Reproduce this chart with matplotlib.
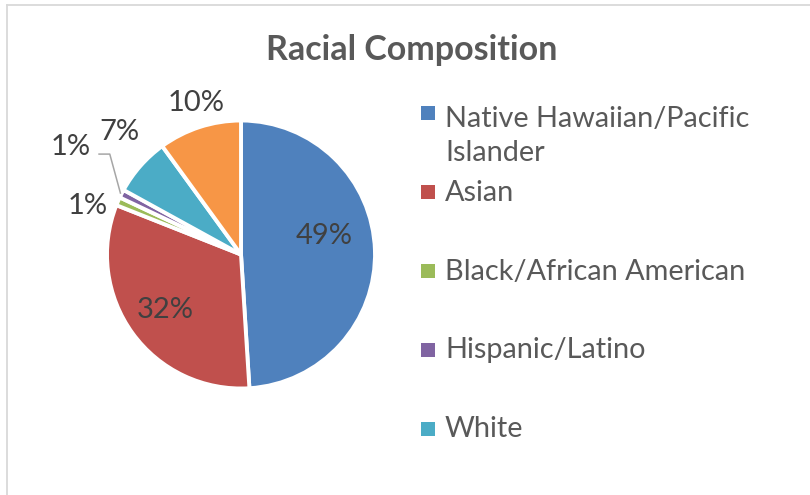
import numpy as np
import matplotlib
matplotlib.use("Agg")
from matplotlib import pyplot as plt
from matplotlib.lines import Line2D
from matplotlib.patches import Rectangle

plt.rcParams["font.family"] = ["Lato", "DejaVu Sans"]

groups = ["Native Hawaiian/Pacific Islander", "Asian", "Black/African American",
          "Hispanic/Latino", "White", "Other"]
shares = [49, 32, 1, 1, 7, 10]
legend_names = ["Native Hawaiian/Pacific\nIslander", "Asian", "Black/African American",
                "Hispanic/Latino", "White"]
colors = ["#4F81BD", "#C0504D", "#9BBB59", "#8064A2", "#4BACC6", "#F79646"]

# label placement: distance from centre (radius units) and turn off the wedge middle (deg)
label_dist = [0.635, 0.70, 1.20, 1.50, 1.285, 1.18]
label_turn = [10.9, 0.0, 5.8, -5.2, -3.8, -1.5]

W, H = 810, 495
fig = plt.figure(figsize=(W / 100, H / 100), dpi=100)

# pie centre (241, 254) px, radius 134 px
R = 134
cx, cy = 241, 254.5
span = 1.5
ax = fig.add_axes([(cx - span * R) / W, (H - cy - span * R) / H, 2 * span * R / W, 2 * span * R / H])

wedges, _ = ax.pie(shares, colors=colors, startangle=90, counterclock=False, radius=1,
                   wedgeprops=dict(edgecolor="white", linewidth=2.8))
ax.set_xlim(-span, span)
ax.set_ylim(-span, span)
ax.set_aspect("equal")
ax.axis("off")

for i, (w, v) in enumerate(zip(wedges, shares)):
    mid = np.deg2rad((w.theta1 + w.theta2) / 2 + label_turn[i])
    x, y = label_dist[i] * np.cos(mid), label_dist[i] * np.sin(mid)
    ax.text(x, y, f"{v}%", ha="center", va="center", fontsize=21, color="#404040")
    if i == 3:
        # leader line for the small Hispanic/Latino slice
        wm = np.deg2rad((w.theta1 + w.theta2) / 2)
        ex, ey = 1.01 * np.cos(wm), 1.01 * np.sin(wm)
        ax.add_line(Line2D([x + 0.21, x + 0.29, ex], [y - 0.05, y - 0.05, ey],
                           color="#A6A6A6", lw=1.1))

# title
fig.text(411.5 / W, 1 - 60 / H, "Racial Composition", ha="center", va="baseline",
         fontsize=24.5, fontweight="bold", color="#595959")

# legend, first five entries (baseline of the last text line)
baselines = [161, 201, 280, 358, 437]
markers = [113, 192, 271, 350, 429]
for name, col, yb, ym in zip(legend_names, colors, baselines, markers):
    fig.patches.append(Rectangle((421 / W, 1 - (ym + 7) / H), 14 / W, 14 / H,
                                 transform=fig.transFigure, facecolor=col, edgecolor="none"))
    fig.text(445 / W, 1 - yb / H, name, ha="left", va="baseline", fontsize=20.8,
             color="#595959", linespacing=1.4)

# chart area border (top and left edges)
fig.add_artist(Line2D([7 / W, 1], [1 - 5 / H, 1 - 5 / H], transform=fig.transFigure,
                      color="#D9D9D9", lw=1.3))
fig.add_artist(Line2D([7 / W, 7 / W], [0, 1 - 5 / H], transform=fig.transFigure,
                      color="#D9D9D9", lw=1.3))

fig.savefig("out.png", dpi=100)
